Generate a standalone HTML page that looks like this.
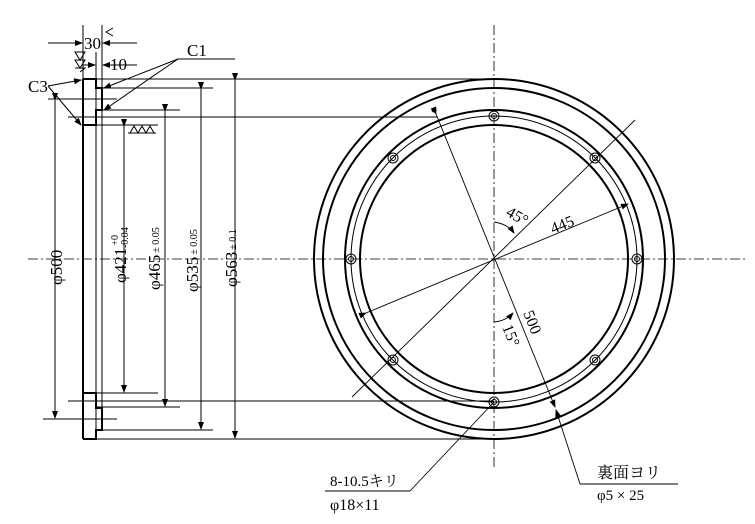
<!DOCTYPE html>
<html><head><meta charset="utf-8"><style>body{margin:0;background:#fff}svg{display:block}</style></head><body>
<svg width="755" height="524" viewBox="0 0 755 524" xmlns="http://www.w3.org/2000/svg" font-family="'Liberation Serif','Noto Serif CJK SC',serif" fill="none" stroke="#000">
<defs><marker id="a" markerWidth="8" markerHeight="6" refX="7" refY="3" orient="auto" markerUnits="userSpaceOnUse"><path d="M0,0 L8,3 L0,6z" fill="#000" stroke="none"/></marker></defs>
<g stroke-width="0.8" stroke-dasharray="10,3,2,3">
<line x1="28" y1="259" x2="748" y2="259"/>
<line x1="494" y1="25" x2="494" y2="470"/>
</g>
<g stroke-width="2">
<path d="M83,79 V439"/>
<path d="M83,79 H96 V88 H102 V110 H96 V125 H83"/>
<path d="M83,439 H96 V430 H102 V408 H96 V393 H83"/>
</g>
<g stroke-width="1">
<line x1="96" y1="52" x2="96" y2="430"/>
<line x1="102" y1="25" x2="102" y2="408"/>
<line x1="83" y1="25" x2="83" y2="79"/>
<line x1="83" y1="79" x2="494" y2="79"/>
<line x1="102" y1="88" x2="213" y2="88"/>
<line x1="102" y1="110" x2="180" y2="110"/>
<line x1="68" y1="117" x2="437" y2="117"/>
<line x1="48" y1="99" x2="117" y2="99"/>
<line x1="96" y1="125" x2="158" y2="125"/>
<line x1="83" y1="393" x2="158" y2="393"/>
<line x1="68" y1="401" x2="494" y2="401"/>
<line x1="96" y1="407" x2="180" y2="407"/>
<line x1="43" y1="419" x2="117" y2="419"/>
<line x1="96" y1="430" x2="213" y2="430"/>
<line x1="83" y1="439" x2="494" y2="439"/>
<line x1="55" y1="100" x2="55" y2="418" marker-start="url(#a)" marker-end="url(#a)"/>
<line x1="124" y1="126" x2="124" y2="392" marker-start="url(#a)" marker-end="url(#a)"/>
<line x1="165" y1="111" x2="165" y2="406" marker-start="url(#a)" marker-end="url(#a)"/>
<line x1="201" y1="89" x2="201" y2="429" marker-start="url(#a)" marker-end="url(#a)"/>
<line x1="235" y1="80" x2="235" y2="438" marker-start="url(#a)" marker-end="url(#a)"/>
<line x1="48" y1="43" x2="82" y2="43" marker-end="url(#a)"/>
<line x1="137" y1="43" x2="103" y2="43" marker-end="url(#a)"/>
<line x1="83" y1="65" x2="95" y2="65" marker-end="url(#a)"/>
<line x1="137" y1="65" x2="103" y2="65" marker-end="url(#a)"/>
<line x1="178" y1="59" x2="235" y2="59"/>
<line x1="178" y1="59" x2="104" y2="88" marker-end="url(#a)"/>
<line x1="178" y1="59" x2="104" y2="110" marker-end="url(#a)"/>
<line x1="48" y1="86" x2="81" y2="80" marker-end="url(#a)"/>
<line x1="48" y1="86" x2="81" y2="125" marker-end="url(#a)"/>
<path d="M75,52 H85 L80,60 Z M75,60 H85 L80,68 Z M75,68 H85 L80,72"/>
<path d="M130,133 L134,126 L138,133 Z M138,133 L142,126 L146,133 Z M146,133 L150,126 L154,133 Z M128,133 H156"/>
<path d="M113,28 L106,32 L113,36"/>
</g>
<g stroke-width="2">
<circle cx="494" cy="259" r="180"/>
<circle cx="494" cy="259" r="171"/>
<circle cx="494" cy="259" r="149"/>
<circle cx="494" cy="259" r="134"/>
</g>
<circle cx="494" cy="259" r="143" stroke-width="1"/>
<g stroke-width="1">
<circle cx="494" cy="116" r="5"/><circle cx="494" cy="116" r="2.5"/>
<circle cx="494" cy="402" r="5"/><circle cx="494" cy="402" r="2.5"/>
<circle cx="351" cy="259" r="5"/><circle cx="351" cy="259" r="2.5"/>
<circle cx="637" cy="259" r="5"/><circle cx="637" cy="259" r="2.5"/>
<circle cx="393" cy="158" r="5"/><circle cx="393" cy="158" r="2.5"/>
<circle cx="595" cy="158" r="5"/><circle cx="595" cy="158" r="2.5"/>
<circle cx="393" cy="360" r="5"/><circle cx="393" cy="360" r="2.5"/>
<circle cx="595" cy="360" r="5"/><circle cx="595" cy="360" r="2.5"/>
<circle cx="434" cy="110" r="2"/>
</g>
<g stroke-width="0.9">
<line x1="635" y1="120" x2="352" y2="397"/>
<line x1="366" y1="313" x2="628" y2="204" marker-start="url(#a)" marker-end="url(#a)"/>
<line x1="436" y1="114" x2="555" y2="407" marker-start="url(#a)" marker-end="url(#a)"/>
<path d="M494,222 Q508,224 514,233" marker-end="url(#a)"/>
<path d="M494,322 Q506,321 513,313" marker-end="url(#a)"/>
<line x1="494" y1="402" x2="410" y2="491"/>
<line x1="410" y1="491" x2="325" y2="491"/>
<line x1="580" y1="484" x2="556" y2="410" marker-end="url(#a)"/>
<line x1="580" y1="484" x2="678" y2="484"/>
</g>
<g fill="#000" stroke="none" font-size="17">
<text x="84" y="49">30</text>
<text x="110" y="70">10</text>
<text x="187" y="56">C1</text>
<text x="28" y="92">C3</text>
<text transform="translate(62,285) rotate(-90)">φ500</text>
<text transform="translate(126,283) rotate(-90)">φ421<tspan font-size="10" dx="2" dy="-8">+0</tspan><tspan font-size="10" dx="-13" dy="10">-0.04</tspan></text>
<text transform="translate(160,290) rotate(-90)">φ465<tspan font-size="10" dx="2" dy="-1">± 0.05</tspan></text>
<text transform="translate(198,292) rotate(-90)">φ535<tspan font-size="10" dx="2" dy="-1">± 0.05</tspan></text>
<text transform="translate(237,287) rotate(-90)">φ563<tspan font-size="10" dx="2" dy="-1">± 0.1</tspan></text>
<text transform="translate(505,215) rotate(30)" font-size="16">45°</text>
<text transform="translate(553,234) rotate(-22)" font-size="16">445</text>
<text transform="translate(523,313) rotate(68)" font-size="16">500</text>
<text transform="translate(502,327) rotate(68)" font-size="16">15°</text>
<text x="330" y="486" font-size="15">8-10.5キリ</text>
<text x="330" y="510" font-size="16">φ18×11</text>
<text x="597" y="478" font-size="16">裏面ヨリ</text>
<text x="597" y="500" font-size="15">φ5 × 25</text>
</g>
</svg>
</body></html>
